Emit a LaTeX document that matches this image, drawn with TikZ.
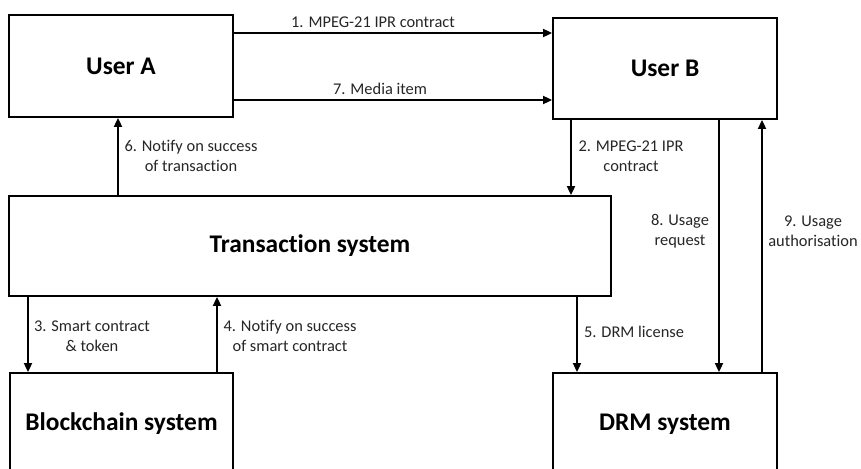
\documentclass[tikz,border=0pt]{standalone}
\usepackage{fontspec}
\setmainfont{Carlito}[Ligatures=NoCommon]
\usetikzlibrary{arrows.meta}
\tikzset{
  box/.style={draw, line width=1.8pt, rectangle, inner sep=0pt, font=\fontsize{25.4}{30}\selectfont\bfseries},
  arr/.style={line width=1.8pt, -{Triangle[length=9pt,width=8pt]}},
  lbl/.style={font=\fontsize{16.4}{20}\selectfont, text=black!85, align=center, inner sep=0pt}
}
\begin{document}
\begin{tikzpicture}[x=1pt,y=-1pt]
\clip (0,0) rectangle (861,468);
\fill[white] (0,0) rectangle (861,468);
% boxes
\node[box, minimum width=224pt, minimum height=102pt] (ua) at (121,66) {User A};
\node[box, minimum width=224pt, minimum height=101pt] (ub) at (665,68.5) {User B};
\node[box, minimum width=602pt, minimum height=100pt] (tr) at (310,246) {Transaction system};
\node[box, minimum width=223pt, minimum height=102pt] (bc) at (121.5,424) {Blockchain system};
\node[box, minimum width=224pt, minimum height=102pt] (drm) at (665,424) {DRM system};
% connectors
\draw[arr] (ua.east |- 0,33) -- (ub.west |- 0,33);
\draw[arr] (ua.east |- 0,100) -- (ub.west |- 0,100);
\draw[arr] (ub.south -| 571,0) -- (tr.north -| 571,0);
\draw[arr] (tr.north -| 118,0) -- (ua.south -| 118,0);
\draw[arr] (tr.south -| 28,0) -- (bc.north -| 28,0);
\draw[arr] (bc.north -| 217,0) -- (tr.south -| 217,0);
\draw[arr] (tr.south -| 577,0) -- (drm.north -| 577,0);
\draw[arr] (ub.south -| 719,0) -- (drm.north -| 719,0);
\draw[arr] (drm.north -| 762,0) -- (ub.south -| 762,0);
% labels
\node[lbl] (l1) at (373,22) {1. MPEG-21 IPR contract};
\node[lbl] (l7) at (380,89) {7. Media item};
\node[lbl] (l6) at (191,156) {6. Notify on success\\of transaction};
\node[lbl] (l2) at (631,156) {2. MPEG-21 IPR\\contract};
\node[lbl] (l8) at (680,231) {8. Usage\\request};
\node[lbl] (l9) at (813,231) {9. Usage\\authorisation};
\node[lbl] (l3) at (92,336) {3. Smart contract\\\& token};
\node[lbl] (l4) at (290,336) {4. Notify on success\\of smart contract};
\node[lbl] (l5) at (634,332) {5. DRM license};
\end{tikzpicture}
\end{document}
